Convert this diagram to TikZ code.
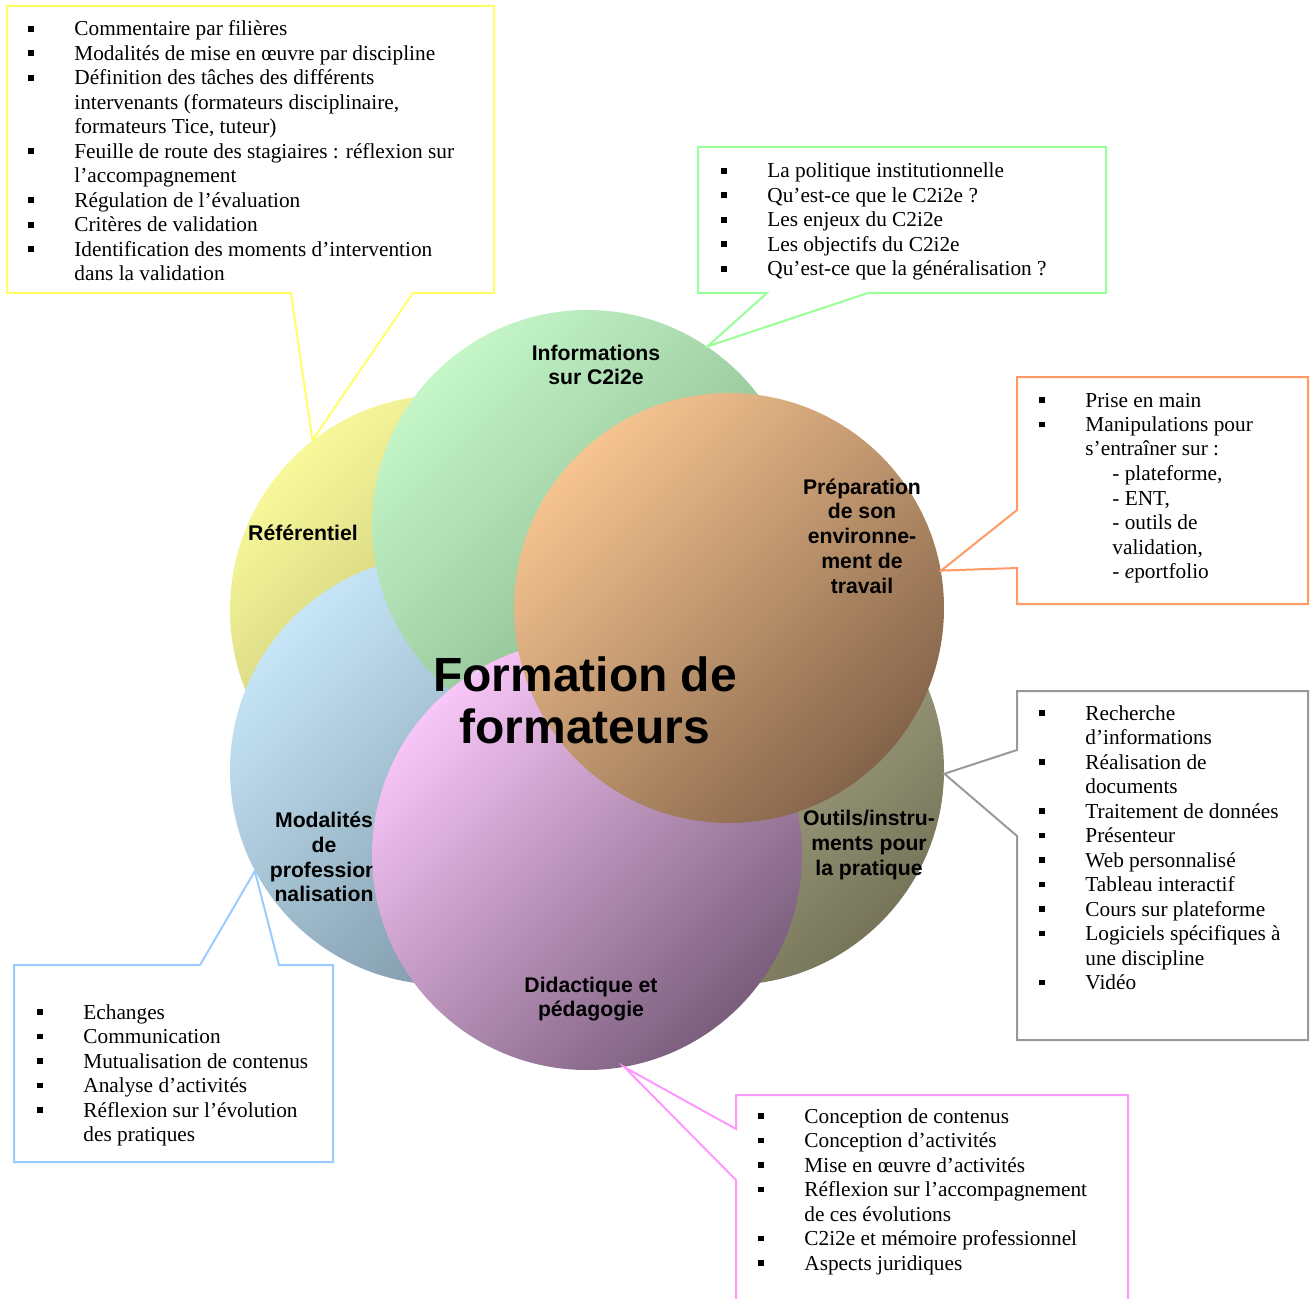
\documentclass[tikz,border=0pt]{standalone}
\usepackage{fontspec}
\setmainfont{Liberation Serif}
\setsansfont{Liberation Sans}
\usetikzlibrary{positioning}

% teintes des bulles (clair / fonce) et des cadres
\definecolor{jauneC}{HTML}{F8F89A}  \definecolor{jauneF}{HTML}{A4A262}
\definecolor{vertC}{HTML}{C4F6C8}   \definecolor{vertF}{HTML}{7EAA80}
\definecolor{orangeC}{HTML}{F6C490} \definecolor{orangeF}{HTML}{84644A}
\definecolor{oliveC}{HTML}{CFCFA8}  \definecolor{oliveF}{HTML}{76755A}
\definecolor{roseC}{HTML}{F8C6F8}   \definecolor{roseF}{HTML}{7A5E7C}
\definecolor{bleuC}{HTML}{C6E6F8}   \definecolor{bleuF}{HTML}{748D9C}
\definecolor{jauneT}{HTML}{FFFF66}
\definecolor{vertT}{HTML}{99FF99}
\definecolor{orangeT}{HTML}{FF9966}
\definecolor{grisT}{HTML}{999999}
\definecolor{bleuT}{HTML}{99CCFF}
\definecolor{roseT}{HTML}{FF99FF}

% puce carree + retrait des lignes suivantes
\newcommand\puce{\par\hangindent=23pt\hangafter=1\noindent\makebox[23pt][l]{\rule[2.1pt]{2.9pt}{2.9pt}}}
\newcommand\sous{\hspace*{13.5pt}}

\tikzset{
  bulle/.style={circle, minimum size=215pt, inner sep=0pt},
  jaune/.style={bulle, top color=jauneC, bottom color=jauneF, shading angle=45},
  vert/.style={bulle, top color=vertC, bottom color=vertF, shading angle=45},
  orange/.style={bulle, top color=orangeC, bottom color=orangeF, shading angle=45},
  olive/.style={bulle, top color=oliveC, bottom color=oliveF, shading angle=45},
  rose/.style={bulle, top color=roseC, bottom color=roseF, shading angle=45},
  bleu/.style={bulle, top color=bleuC, bottom color=bleuF, shading angle=45},
  titre/.style={font=\sffamily\bfseries\fontsize{10.6}{12.4}\selectfont, align=center, inner sep=0pt},
  liste/.style={anchor=base west, inner sep=0pt, font=\fontsize{10.65}{12.25}\selectfont},
  cadre/.style={line width=1pt},
}

\begin{document}
\begin{tikzpicture}[x=0.5pt, y=-0.5pt]
  \useasboundingbox (0,0) rectangle (1310,1299);

  % les six bulles, de la plus basse a la plus haute
  \node[jaune] (ref) at (445,610) {};
  \node[titre] (tref) at (303,533) {R\'ef\'erentiel};
  \node[olive] (outils) at (729,770) {};
  \node[titre] (toutils) at (869,845) {Outils/instru-\\ments pour\\la pratique};
  \node[bleu] (modal) at (445,770) {};
  \node[titre] (tmodal) at (324,857) {Modalit\'es\\de\\profession\\nalisation};
  \node[vert] (info) at (587,525) {};
  \node[titre] (tinfo) at (596,365) {Informations\\sur C2i2e};
  \node[rose] (didac) at (587,855) {};
  \node[titre] (tdidac) at (591,999) {Didactique et\\p\'edagogie};
  \node[orange] (prep) at (729,608) {};
  \node[titre] (tprep) at (862,536) {Pr\'eparation\\de son\\environne-\\ment de\\travail};

  \node[font=\sffamily\bfseries\fontsize{24}{26}\selectfont, align=center, inner sep=0pt]
    (formation) at (585,700) {Formation de\\formateurs};

  % bulles de commentaire
  \draw[cadre, jauneT] (7,6) -- (494,6) -- (494,293) -- (413,293) -- (ref.128)
    -- (291,293) -- (7,293) -- cycle;
  \draw[cadre, vertT] (698,147) -- (1106,147) -- (1106,293) -- (868,293) -- (info.56)
    -- (767,293) -- (698,293) -- cycle;
  \draw[cadre, orangeT] (1017,377) -- (1308,377) -- (1308,604) -- (1017,604) -- (1017,568)
    -- (prep.10) -- (1017,510) -- cycle;
  \draw[cadre, grisT] (1017,691) -- (1308,691) -- (1308,1040) -- (1017,1040) -- (1017,836)
    -- (outils.-1) -- (1017,750) -- cycle;
  \draw[cadre, bleuT] (14,965) -- (200,965) -- (modal.208) -- (279,965) -- (333,965)
    -- (333,1162) -- (14,1162) -- cycle;
  \draw[cadre, roseT] (736,1299) -- (736,1180) -- (didac.-80) -- (736,1129) -- (736,1095)
    -- (1128,1095) -- (1128,1299);

  % listes
  \node[liste] (lref) at (28,36) {\parbox[t]{240pt}{
    \puce Commentaire par fili\`eres
    \puce Modalit\'es de mise en \oe uvre par discipline
    \puce D\'efinition des t\^aches des diff\'erents\\intervenants (formateurs disciplinaire,\\formateurs Tice, tuteur)
    \puce Feuille de route des stagiaires : r\'eflexion sur\\l’accompagnement
    \puce R\'egulation de l’\'evaluation
    \puce Crit\`eres de validation
    \puce Identification des moments d’intervention\\dans la validation}};
  \node[liste] (linfo) at (721,178) {\parbox[t]{190pt}{
    \puce La politique institutionnelle
    \puce Qu’est-ce que le C2i2e ?
    \puce Les enjeux du C2i2e
    \puce Les objectifs du C2i2e
    \puce Qu’est-ce que la g\'en\'eralisation ?}};
  \node[liste] (lprep) at (1039,407) {\parbox[t]{130pt}{
    \puce Prise en main
    \puce Manipulations pour\\s’entra\^iner sur :\\\sous- plateforme,\\\sous- ENT,\\\sous- outils de\\\sous validation,\\\sous- \emph{e}portfolio}};
  \node[liste] (loutils) at (1039,720) {\parbox[t]{130pt}{
    \puce Recherche\\d’informations
    \puce R\'ealisation de\\documents
    \puce Traitement de donn\'ees
    \puce Pr\'esenteur
    \puce Web personnalis\'e
    \puce Tableau interactif
    \puce Cours sur plateforme
    \puce Logiciels sp\'ecifiques \`a\\une discipline
    \puce Vid\'eo}};
  \node[liste] (lmodal) at (37,1019) {\parbox[t]{150pt}{
    \puce Echanges
    \puce Communication
    \puce Mutualisation de contenus
    \puce Analyse d’activit\'es
    \puce R\'eflexion sur l’\'evolution\\des pratiques}};
  \node[liste] (ldidac) at (758,1123) {\parbox[t]{180pt}{
    \puce Conception de contenus
    \puce Conception d’activit\'es
    \puce Mise en \oe uvre d’activit\'es
    \puce R\'eflexion sur l’accompagnement\\de ces \'evolutions
    \puce C2i2e et m\'emoire professionnel
    \puce Aspects juridiques}};
\end{tikzpicture}
\end{document}
